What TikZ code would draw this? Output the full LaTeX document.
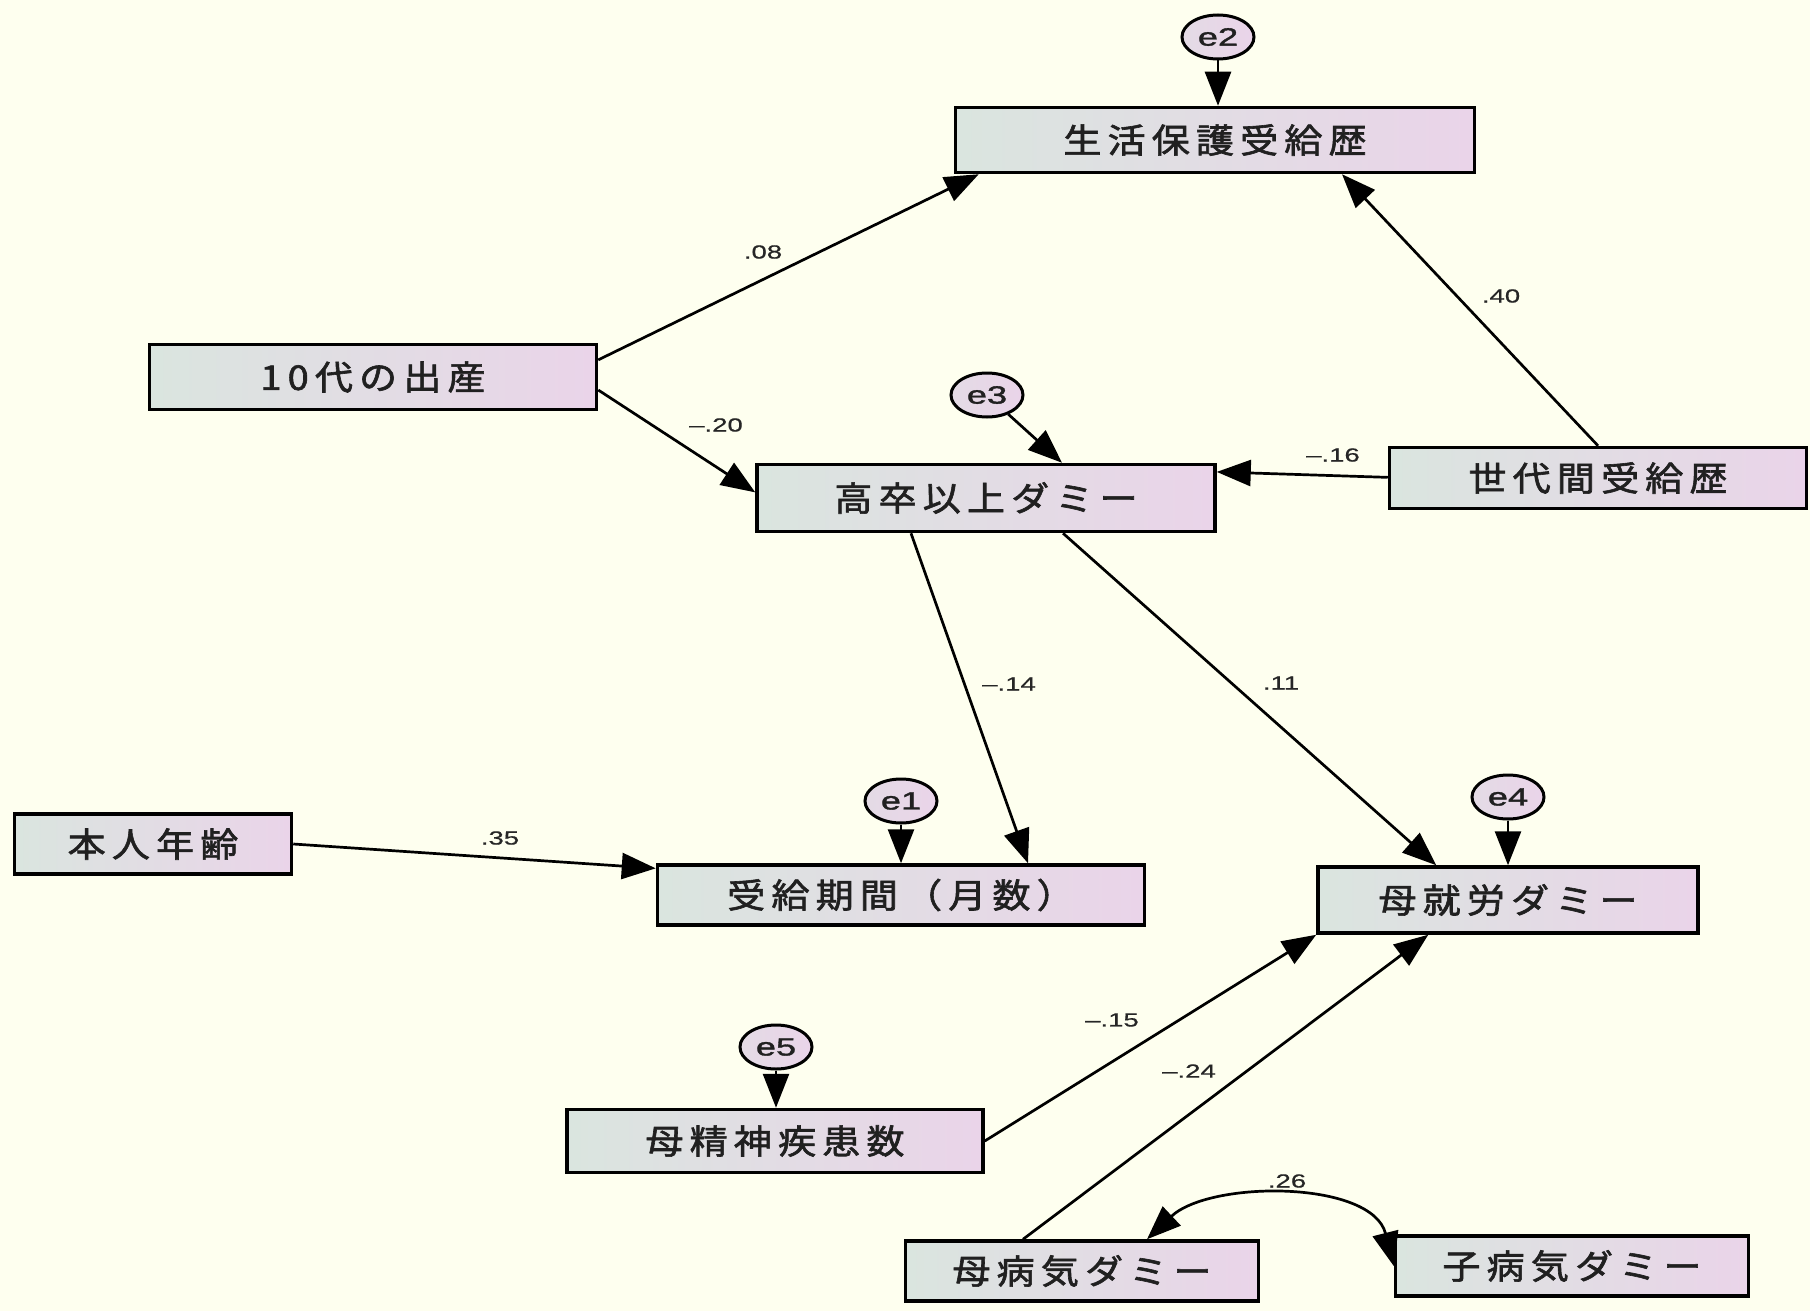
\documentclass[tikz,border=0pt]{standalone}
\usepackage{fontspec}
\usetikzlibrary{arrows.meta,calc,shapes.geometric}
\newfontfamily\jpf[FakeStretch=1.12,LetterSpace=18,FakeBold=1.8]{Noto Sans CJK JP}
\newfontfamily\numf[FakeStretch=1.45,FakeBold=0.6]{Liberation Sans}
\newfontfamily\errf[FakeStretch=1.45,FakeBold=1.4]{Liberation Sans}
\definecolor{bg}{HTML}{FEFFEF}
\definecolor{boxL}{HTML}{DAE5DF}
\definecolor{boxR}{HTML}{EAD4E9}
\definecolor{txt}{HTML}{202020}
\tikzset{
  var/.style={draw=black, line width=3.5pt, left color=boxL, right color=boxR,
    inner sep=0pt, text=txt, font=\jpf\fontsize{34}{36}\selectfont},
  err/.style={ellipse, draw=black, line width=3pt, left color=boxL!40!boxR, right color=boxR,
    minimum width=72pt, minimum height=44pt, inner sep=0pt, text=txt, font=\errf\fontsize{25}{26}\selectfont},
  pth/.style={-{Triangle[length=34pt,width=26pt]}, line width=2.7pt, black},
  coef/.style={font=\numf\fontsize{19}{20}\selectfont, text=black!85, inner sep=0pt}
}
\begin{document}
\begin{tikzpicture}[x=1pt,y=-1pt]
\fill[bg] (0,0) rectangle (1810,1311);
\useasboundingbox (0,0) rectangle (1810,1311);
% observed variables
\node[var, minimum width=519pt, minimum height=65pt] (lh) at (1215,140) {生活保護受給歴};
\node[var, minimum width=447pt, minimum height=65pt] (birth) at (373,377) {10代の出産};
\node[var, minimum width=458pt, minimum height=67pt] (hs) at (986,498) {高卒以上ダミー};
\node[var, minimum width=417pt, minimum height=61pt] (gen) at (1598,478) {世代間受給歴};
\node[var, minimum width=277pt, minimum height=60pt] (age) at (153,844) {本人年齢};
\node[var, minimum width=487pt, minimum height=60pt] (dur) at (901,895) {受給期間（月数）};
\node[var, minimum width=380pt, minimum height=66pt] (mw) at (1508,900) {母就労ダミー};
\node[var, minimum width=416pt, minimum height=63pt] (mm) at (775,1141) {母精神疾患数};
\node[var, minimum width=353pt, minimum height=60pt] (mi) at (1082,1271) {母病気ダミー};
\node[var, minimum width=353pt, minimum height=60pt] (ci) at (1572,1266) {子病気ダミー};
% errors
\node[err] (e2) at (1218,37) {e2};
\node[err] (e3) at (987,395) {e3};
\node[err] (e1) at (901,801) {e1};
\node[err] (e4) at (1508,797) {e4};
\node[err] (e5) at (776,1047) {e5};
% paths
\draw[pth] ($(birth.north east)!0.25!(birth.south east)$) -- ($(lh.south west)+(25,0)$);
\draw[pth] ($(birth.north east)!0.69!(birth.south east)$) -- ($(hs.north west)!0.42!(hs.south west)$);
\draw[pth] (gen.north) -- ($(lh.south)+(127,0)$);
\draw[pth] ($(gen.north west)!0.49!(gen.south west)$) -- ($(hs.north east)!0.13!(hs.south east)$);
\draw[pth] (e3) -- ($(hs.north)+(76,0)$);
\draw[pth] ($(hs.south)+(-75,0)$) -- ($(dur.north)+(127,0)$);
\draw[pth] ($(hs.south)+(77,0)$) -- ($(mw.north west)+(120,0)$);
\draw[pth] (age.east) -- ($(dur.north west)!0.08!(dur.south west)$);
\draw[pth] (e1) -- (dur.north);
\draw[pth] (e2) -- (e2 |- lh.north);
\draw[pth] (e4) -- (e4 |- mw.north);
\draw[pth] (e5) -- (e5 |- mm.north);
\draw[pth] (mm.east) -- (mw.south west);
\draw[pth] ($(mi.north)+(-59,0)$) -- ($(mw.south west)+(112,0)$);
\draw[pth, {Triangle[length=34pt,width=26pt]}-{Triangle[length=34pt,width=26pt]}]
  ($(mi.north)+(65,0)$) .. controls (1210,1180) and (1372,1180) .. (ci.west);
% coefficients
\node[coef] (c1) at (763,252) {.08};
\node[coef] (c2) at (1501,296) {.40};
\node[coef] (c3) at (716,425) {–.20};
\node[coef] (c4) at (1333,455) {–.16};
\node[coef] (c5) at (1009,684) {–.14};
\node[coef] (c6) at (1281,683) {.11};
\node[coef] (c7) at (500,838) {.35};
\node[coef] (c8) at (1112,1020) {–.15};
\node[coef] (c9) at (1189,1071) {–.24};
\node[coef] (c10) at (1287,1181) {.26};
\end{tikzpicture}
\end{document}
